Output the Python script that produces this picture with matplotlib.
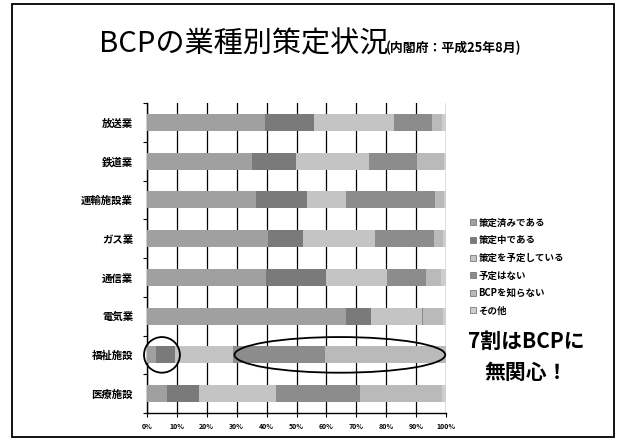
import matplotlib
matplotlib.use("Agg")
import matplotlib.pyplot as plt
from matplotlib.patches import Ellipse, Rectangle
from matplotlib.lines import Line2D
import numpy as np

plt.rcParams['font.family'] = ['Noto Sans CJK JP', 'DejaVu Sans']

# industries, top to bottom
industries = ['放送業', '鉄道業', '運輸施設業', 'ガス業', '通信業', '電気業', '福祉施設', '医療施設']

# share of answers (%) per industry
done = [39.5, 35.0, 36.5, 40.6, 39.8, 66.5, 3.0, 6.6]
in_progress = [16.4, 14.8, 16.9, 11.7, 20.1, 8.3, 6.5, 10.9]
planned = [26.7, 24.3, 13.2, 24.0, 20.3, 17.1, 19.4, 25.6]
no_plan = [12.6, 16.1, 29.7, 19.7, 13.1, 0.5, 30.6, 28.1]
unknown = [3.5, 9.0, 3.0, 3.0, 5.0, 6.5, 40.5, 27.5]
other = [1.3, 0.8, 0.7, 1.0, 1.7, 1.1, 0.0, 1.3]

series_names = ['策定済みである', '策定中である', '策定を予定している',
                '予定はない', 'BCPを知らない', 'その他']
series = [done, in_progress, planned, no_plan, unknown, other]
greys = ['#a0a0a0', '#7a7a7a', '#c4c4c4', '#8c8c8c', '#bababa', '#cecece']

x_ticks = list(range(0, 101, 10))
x_labels = [f'{t}%' for t in x_ticks]

fig = plt.figure(figsize=(6.26, 4.41), dpi=100)

# slide frame
fig.add_artist(Rectangle((12 / 626, 4 / 441), 602 / 626, 433 / 441,
                         transform=fig.transFigure, fill=False,
                         edgecolor='black', linewidth=1.3))

# title
fig.text(99 / 626, 1 - 44 / 441, 'BCPの業種別策定状況', fontsize=21,
         va='center', ha='left')
fig.text(386 / 626, 1 - 48 / 441, '(内閣府：平成25年8月)', fontsize=9.3,
         fontweight='bold', va='center', ha='left')

ax = fig.add_axes([147 / 626, 1 - 413 / 441, 299 / 626, 310 / 441])

ypos = np.arange(len(industries))
left = np.zeros(len(industries))
for name, vals, col in zip(series_names, series, greys):
    ax.barh(ypos, vals, left=left, height=0.44, color=col, label=name,
            zorder=3)
    left += np.array(vals)

ax.set_ylim(len(industries) - 0.5, -0.5)
ax.set_xlim(0, 100)

ax.set_yticks(ypos)
ax.set_yticklabels(industries, fontsize=7.5, fontweight='bold')
ax.set_yticks(np.arange(-0.5, len(industries), 1), minor=True)
ax.tick_params(axis='y', which='major', length=0, pad=10)
ax.tick_params(axis='y', which='minor', length=3, width=0.8, direction='out')

ax.set_xticks(x_ticks)
ax.set_xticklabels(x_labels, fontsize=5, fontweight='bold')
ax.tick_params(axis='x', length=3, width=0.8, pad=4)

ax.grid(axis='x', color='black', linewidth=0.9, zorder=1)
for side in ['top', 'right']:
    ax.spines[side].set_visible(False)
ax.spines['left'].set_linewidth(1.0)
ax.spines['bottom'].set_linewidth(1.0)

# circles around the welfare row
fukushi = industries.index('福祉施設')
ax.add_patch(Ellipse((5, fukushi), 12, 0.92, fill=False, edgecolor='black',
                     linewidth=1.3, zorder=5, clip_on=False))
ax.add_patch(Ellipse((64.5, fukushi), 70.5, 0.92, fill=False, edgecolor='black',
                     linewidth=1.3, zorder=5, clip_on=False))

# legend
handles = [Line2D([], [], marker='s', linestyle='', markersize=4,
                  markerfacecolor=c, markeredgecolor='#666666',
                  markeredgewidth=0.5) for c in greys]
fig.legend(handles, series_names, loc='upper left',
           bbox_to_anchor=(466 / 626, 1 - 214 / 441), frameon=False,
           prop={'size': 6.8, 'weight': 'bold'}, handlelength=0.6,
           handletextpad=0.3, labelspacing=0.8, borderaxespad=0)

fig.text(526 / 626, 1 - 341 / 441, '7割はBCPに', fontsize=15,
         fontweight='bold', ha='center', va='center')
fig.text(526 / 626, 1 - 372 / 441, '無関心！', fontsize=15,
         fontweight='bold', ha='center', va='center')

fig.savefig('out.png', dpi=100)
